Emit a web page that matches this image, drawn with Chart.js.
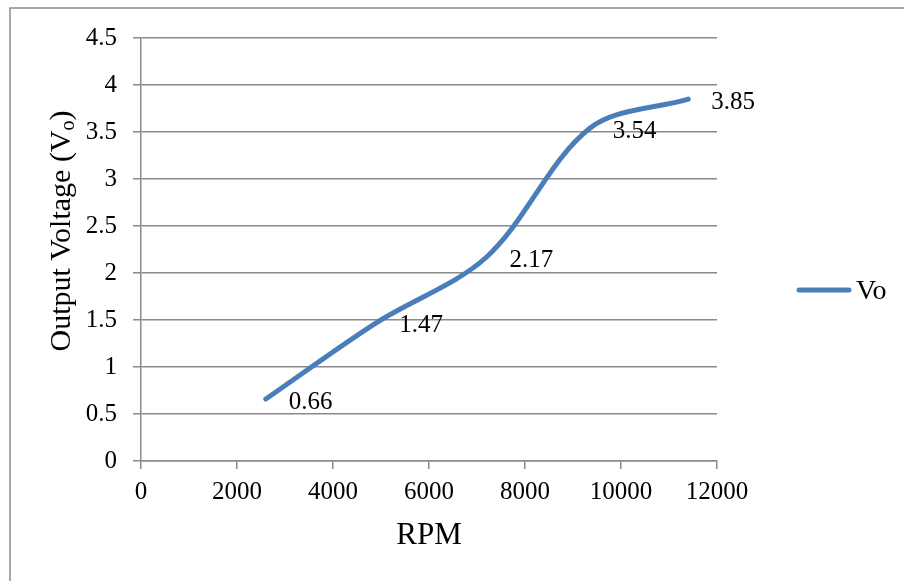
<!DOCTYPE html>
<html>
<head>
<meta charset="utf-8">
<script src="https://cdn.jsdelivr.net/npm/chart.js@4/dist/chart.umd.min.js"></script>
<style>
  body { margin: 0; background: #fff; }
  #wrap { width: 904px; height: 581px; }
</style>
</head>
<body>
<div id="wrap"><canvas id="myCanvas" width="904" height="581"></canvas></div>
<script>
// data
const rpm = [2600, 4900, 7200, 9350, 11400];
const vo = [0.66, 1.47, 2.17, 3.54, 3.85];
const seriesName = 'Vo';
const xTitle = 'RPM';

const serif = "'Liberation Serif', 'Times New Roman', serif";
const blue = '#4a7ebb';
const gridGray = '#8a8a8a';

let points = rpm.map((r, i) => ({ x: r, y: vo[i] }));

// frame, y title with subscript, value labels and legend
const extras = {
  id: 'extras',
  beforeDraw(chart) {
    let ctx = chart.ctx;
    ctx.save();
    ctx.strokeStyle = '#8c8c8c';
    ctx.lineWidth = 1.5;
    ctx.strokeRect(10, 8, 920, 600);
    ctx.restore();
  },
  afterDraw(chart) {
    let ctx = chart.ctx;
    ctx.save();
    // y axis title: Output Voltage (Vo) with subscript o
    ctx.translate(62, 231);
    ctx.rotate(-Math.PI / 2);
    ctx.fillStyle = '#000';
    ctx.textBaseline = 'middle';
    let big = '30px ' + serif, small = '20px ' + serif;
    ctx.font = big;
    let a = 'Output Voltage (V', c = ')';
    let wa = ctx.measureText(a).width, wc = ctx.measureText(c).width;
    ctx.font = small;
    let wb = ctx.measureText('o').width;
    let x0 = -(wa + wb + wc) / 2;
    ctx.font = big;
    ctx.textAlign = 'left';
    ctx.fillText(a, x0, 0);
    ctx.font = small;
    ctx.fillText('o', x0 + wa, 7);
    ctx.font = big;
    ctx.fillText(c, x0 + wa + wb, 0);
    ctx.restore();

    // data labels
    ctx.save();
    ctx.font = '25px ' + serif;
    ctx.fillStyle = '#000';
    ctx.textAlign = 'left';
    ctx.textBaseline = 'middle';
    let meta = chart.getDatasetMeta(0);
    meta.data.forEach((pt, i) => {
      ctx.fillText(String(vo[i]), pt.x + 23, pt.y + 3);
    });
    ctx.restore();

    // legend
    ctx.save();
    ctx.strokeStyle = blue;
    ctx.lineWidth = 5;
    ctx.lineCap = 'round';
    ctx.beginPath();
    ctx.moveTo(799, 290);
    ctx.lineTo(849, 290);
    ctx.stroke();
    ctx.font = '28px ' + serif;
    ctx.fillStyle = '#000';
    ctx.textBaseline = 'middle';
    ctx.fillText(seriesName, 856, 292);
    ctx.restore();
  }
};

let chrt = document.getElementById('myCanvas');
let myChart = new Chart(chrt, {
  type: 'scatter',
  data: {
    datasets: [{
      label: seriesName,
      data: points,
      showLine: true,
      borderColor: blue,
      backgroundColor: blue,
      borderWidth: 5,
      borderCapStyle: 'round',
      pointRadius: 0,
      tension: 0.33
    }]
  },
  options: {
    responsive: false,
    animation: false,
    devicePixelRatio: 1,
    layout: { padding: { left: 0, top: 38, right: 187, bottom: 0 } },
    plugins: { legend: { display: false }, tooltip: { enabled: false } },
    scales: {
      x: {
        type: 'linear', min: 0, max: 12000,
        ticks: { stepSize: 2000, color: '#000', font: { family: serif, size: 25 }, padding: 8, maxRotation: 0,
                 callback: v => String(v) },
        grid: { drawOnChartArea: false, drawTicks: true, tickLength: 8, color: gridGray, lineWidth: 1.5 },
        border: { color: gridGray, width: 1.5 },
        title: { display: true, text: xTitle, color: '#000', font: { family: serif, size: 31 }, padding: { top: 0, bottom: 27 } },
        afterFit(s) { s.height = 120; }
      },
      y: {
        min: 0, max: 4.5,
        ticks: { stepSize: 0.5, color: '#000', font: { family: serif, size: 25 }, padding: 16,
                 callback: v => String(v) },
        grid: { drawTicks: true, tickLength: 8, color: gridGray, lineWidth: 1.5 },
        border: { color: gridGray, width: 1.5 },
        afterFit(s) { s.width = 141; }
      }
    }
  },
  plugins: [extras]
});
</script>
</body>
</html>
